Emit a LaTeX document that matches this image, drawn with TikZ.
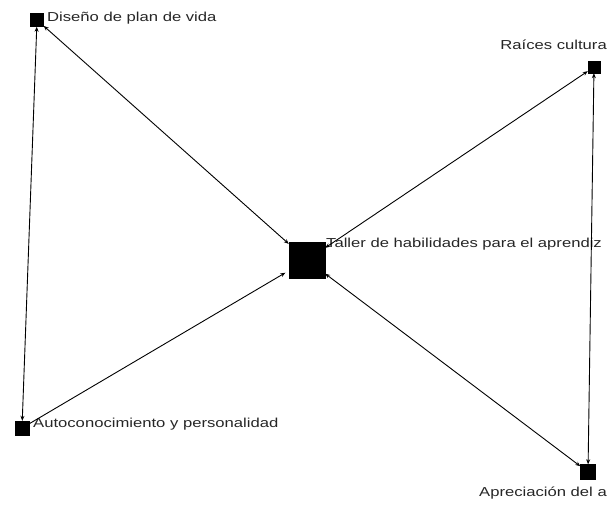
\documentclass[tikz,border=0pt]{standalone}
\usepackage{fontspec}
\setmainfont{Liberation Sans}
\newfontfamily\lblfont[FakeStretch=1.28]{Liberation Sans}
\usetikzlibrary{arrows.meta}
\begin{document}
\begin{tikzpicture}[x=1pt,y=-1pt,
  nd/.style={fill=black,draw=black,inner sep=0pt,minimum size=#1},
  lbl/.style={inner sep=0pt,font=\lblfont\fontsize{13}{13}\selectfont,text=black!85},
  ed/.style={draw=black,line width=0.9pt,-{Stealth[length=5pt,width=4pt]}},
  bi/.style={draw=black,line width=0.9pt,{Stealth[length=5pt,width=4pt]}-{Stealth[length=5pt,width=4pt]}}]
\useasboundingbox (0,0) rectangle (607,531);
\clip (0,0) rectangle (607,531);
\node[nd=13pt] (dis) at (37,20) {};
\node[nd=12pt] (rai) at (594,67) {};
\node[nd=36pt] (cen) at (307,260) {};
\node[nd=14pt] (aut) at (22,428) {};
\node[nd=15pt] (apr) at (588,472) {};
\node[lbl,anchor=west] (ldis) at (47,18) {Diseño de plan de vida};
\node[lbl,anchor=east] (lrai) at (607,45) {Raíces cultura};
\node[lbl,anchor=west] (lcen) at (326,244) {Taller de habilidades para el aprendiz};
\node[lbl,anchor=west] (laut) at (33,424) {Autoconocimiento y personalidad};
\node[lbl,anchor=east] (lapr) at (607,493) {Apreciación del a};
\draw[bi] (cen) -- (dis);
\draw[bi] (cen) -- (rai);
\draw[bi] (cen) -- (apr);
\draw[ed,shorten >=4pt] (aut) -- (cen);
\draw[bi] (dis) -- (aut);
\draw[bi] (rai) -- (apr);
\end{tikzpicture}
\end{document}
